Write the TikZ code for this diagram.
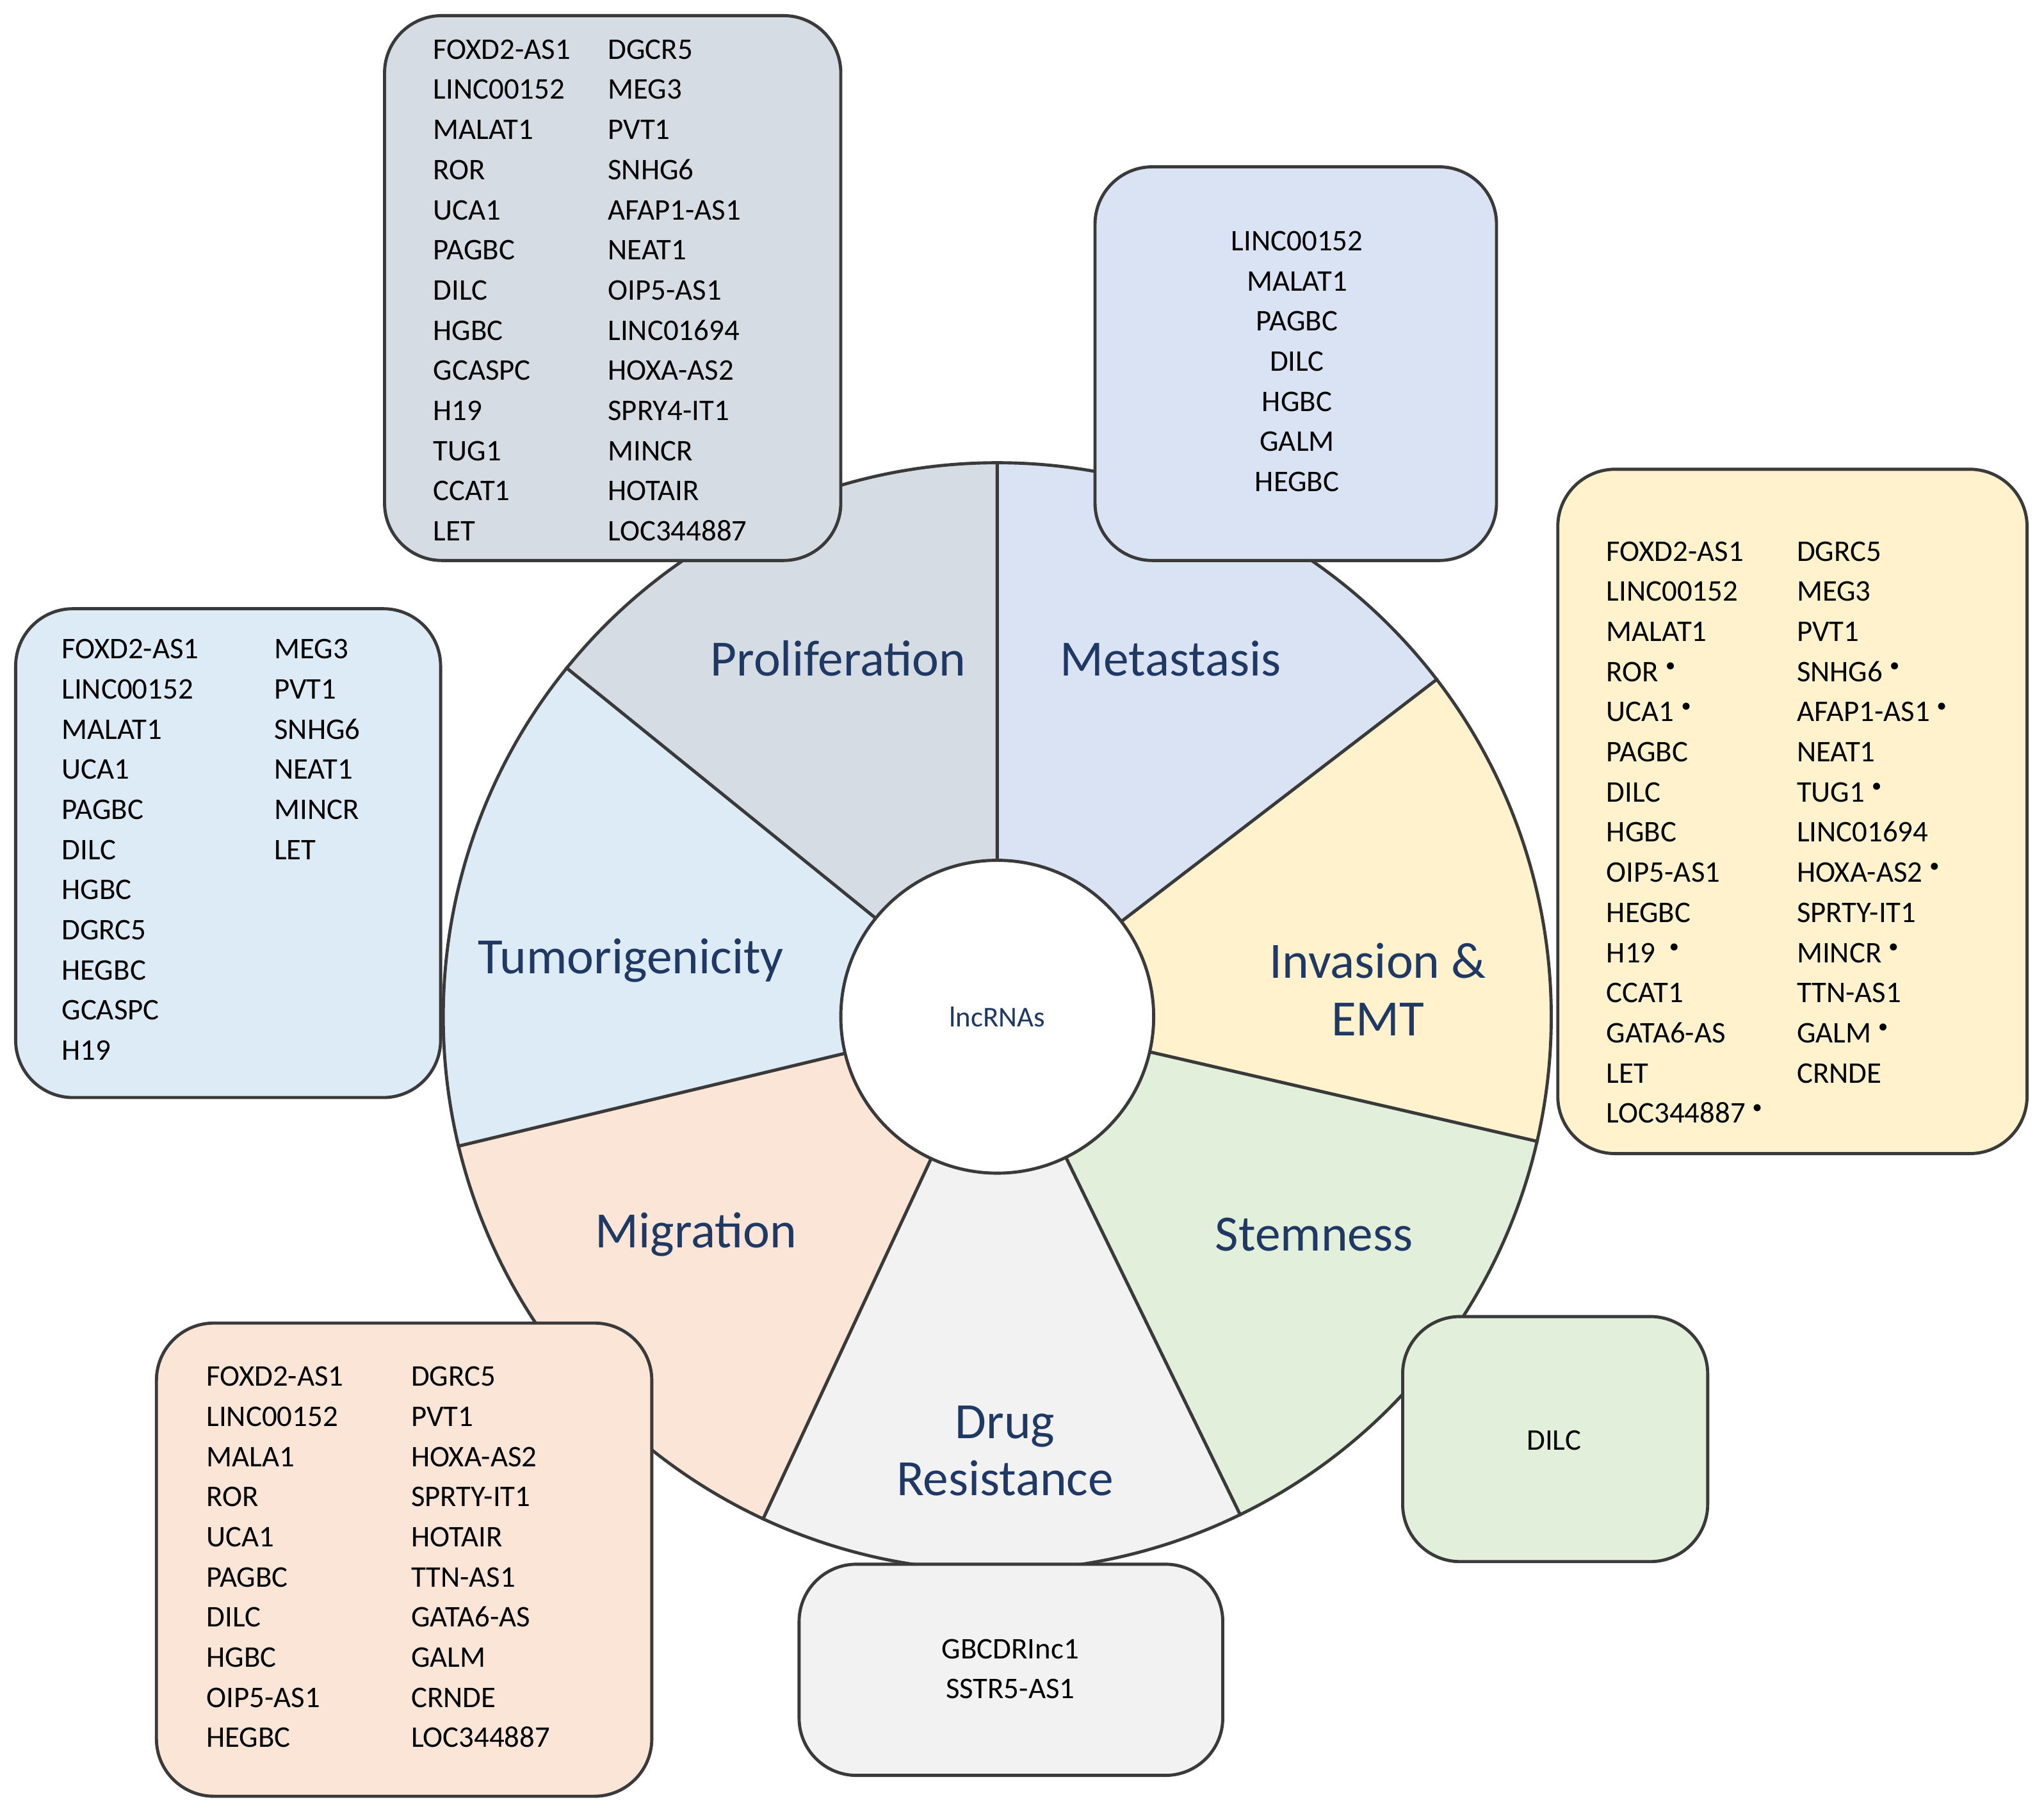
\documentclass[tikz,border=0pt]{standalone}
\usepackage{fontspec}
\setmainfont{Carlito}
\definecolor{cpro}{HTML}{D6DCE4}
\definecolor{cmet}{HTML}{DAE3F3}
\definecolor{cinv}{HTML}{FFF2CC}
\definecolor{cste}{HTML}{E2EFDA}
\definecolor{cdru}{HTML}{F2F2F2}
\definecolor{cmig}{HTML}{FBE5D6}
\definecolor{ctum}{HTML}{DDEBF7}
\definecolor{lab}{HTML}{1F3864}
\definecolor{edge}{HTML}{3A3A3A}
\newcommand{\dt}{$^{\scriptscriptstyle\bullet}$}
\begin{document}
\begin{tikzpicture}[x=0.5pt,y=0.5pt,
  box/.style={draw=edge,line width=1.2pt,rounded corners=22pt},
  list/.style={font=\fontsize{11.5}{15.4}\selectfont,align=left,inner sep=0,anchor=north west},
  clist/.style={font=\fontsize{11.5}{15.4}\selectfont,align=center,inner sep=0,anchor=north},
  lbl/.style={font=\fontsize{19.5}{22}\selectfont,text=lab,align=center}]
\useasboundingbox (0,0) rectangle (1568,1386);
\coordinate (c) at (765,606);
\foreach \a/\b/\col in {90/141/cpro,37.5/90/cmet,-13/37.5/cinv,-64/-13/cste,-115/-64/cdru,-166.5/-115/cmig,-219/-166.5/ctum}{
  \filldraw[fill=\col,draw=edge,line width=1.2pt] (c) -- ++(\a:425) arc[start angle=\a,end angle=\b,radius=425] -- cycle;
}
\node[circle,draw=edge,line width=1.2pt,fill=white,minimum size=120pt,inner sep=0] (core) at (c) {};
\node[font=\fontsize{11}{13}\selectfont,text=lab] (lnc) at (c) {lncRNAs};
% sector labels
\node[lbl] (lpro) at (643,881) {Proliferation};
\node[lbl] (lmet) at (898,881) {Metastasis};
\node[lbl] (linv) at (1057,627) {Invasion \&\\EMT};
\node[lbl] (ltum) at (484,649) {Tumorigenicity};
\node[lbl] (lmig) at (534,439) {Migration};
\node[lbl] (lste) at (1008,439) {Stemness};
\node[lbl] (ldru) at (771,273) {Drug\\Resistance};
% boxes
\draw[box,fill=cpro] (295,956) rectangle (645,1374);
\draw[box,fill=cmet] (840,956) rectangle (1148,1258);
\draw[box,fill=cinv] (1195,501) rectangle (1555,1026);
\draw[box,fill=ctum] (12,544) rectangle (338,919);
\draw[box,fill=cmig] (120,8) rectangle (500,371);
\draw[box,fill=cdru] (613,24) rectangle (938,186);
\draw[box,fill=cste] (1076,188) rectangle (1310,376);
% lists
\node[list] (p1) at (332,1356) {FOXD2-AS1\\LINC00152\\MALAT1\\ROR\\UCA1\\PAGBC\\DILC\\HGBC\\GCASPC\\H19\\TUG1\\CCAT1\\LET};
\node[list] (p2) at (466,1356) {DGCR5\\MEG3\\PVT1\\SNHG6\\AFAP1-AS1\\NEAT1\\OIP5-AS1\\LINC01694\\HOXA-AS2\\SPRY4-IT1\\MINCR\\HOTAIR\\LOC344887};
\node[clist] (m1) at (995,1209) {LINC00152\\MALAT1\\PAGBC\\DILC\\HGBC\\GALM\\HEGBC};
\node[list] (i1) at (1232,971) {FOXD2-AS1\\LINC00152\\MALAT1\\ROR \dt\\UCA1 \dt\\PAGBC\\DILC\\HGBC\\OIP5-AS1\\HEGBC\\H19 \ \dt\\CCAT1\\GATA6-AS\\LET\\LOC344887 \dt};
\node[list] (i2) at (1378,971) {DGRC5\\MEG3\\PVT1\\SNHG6 \dt\\AFAP1-AS1 \dt\\NEAT1\\TUG1 \dt\\LINC01694\\HOXA-AS2 \dt\\SPRTY-IT1\\MINCR \dt\\TTN-AS1\\GALM \dt\\CRNDE};
\node[list] (t1) at (47,896) {FOXD2-AS1\\LINC00152\\MALAT1\\UCA1\\PAGBC\\DILC\\HGBC\\DGRC5\\HEGBC\\GCASPC\\H19};
\node[list] (t2) at (210,896) {MEG3\\PVT1\\SNHG6\\NEAT1\\MINCR\\LET};
\node[list] (g1) at (158,338) {FOXD2-AS1\\LINC00152\\MALA1\\ROR\\UCA1\\PAGBC\\DILC\\HGBC\\OIP5-AS1\\HEGBC};
\node[list] (g2) at (315,338) {DGRC5\\PVT1\\HOXA-AS2\\SPRTY-IT1\\HOTAIR\\TTN-AS1\\GATA6-AS\\GALM\\CRNDE\\LOC344887};
\node[clist] (d1) at (775,129) {GBCDRInc1\\SSTR5-AS1};
\node[font=\fontsize{11.5}{15.4}\selectfont,inner sep=0] (s1) at (1192,281) {DILC};
\end{tikzpicture}
\end{document}
